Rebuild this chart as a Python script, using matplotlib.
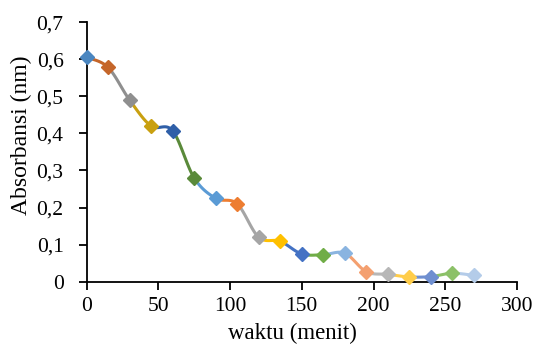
import numpy as np
import matplotlib
matplotlib.use("Agg")
import matplotlib.pyplot as plt
from matplotlib.ticker import FuncFormatter

waktu = [0, 15, 30, 45, 60, 75, 90, 105, 120, 135, 150, 165, 180, 195, 210, 225, 240, 255, 270]
absorbansi = [0.605, 0.578, 0.49, 0.42, 0.407, 0.28, 0.225, 0.21, 0.12, 0.109, 0.075, 0.073,
              0.077, 0.027, 0.02, 0.013, 0.014, 0.023, 0.017]
colors = ["#4a86c0", "#c5662a", "#8f8f8f", "#c9a010", "#2f5fa8", "#5a8a3a",
          "#5b9bd5", "#ed7d31", "#a5a5a5", "#ffc000", "#4472c4", "#70ad47",
          "#8ab4e0", "#f4a070", "#b7b7b7", "#ffcd4a", "#6f8fd0", "#8cc168", "#b4cce9"]

plt.rcParams['font.family'] = ['Liberation Serif', 'DejaVu Serif']

fig = plt.figure(figsize=(5.38, 3.47), dpi=100)
ax = fig.add_axes([0.1608, 0.188, 0.8002, 0.7484])

x = np.array(waktu, dtype=float)
y = np.array(absorbansi, dtype=float)
n = len(x)
t = np.linspace(0, 1, 30)
for i in range(n - 1):
    p0 = np.array([x[max(i - 1, 0)], y[max(i - 1, 0)]])
    p1 = np.array([x[i], y[i]])
    p2 = np.array([x[i + 1], y[i + 1]])
    p3 = np.array([x[min(i + 2, n - 1)], y[min(i + 2, n - 1)]])
    c1 = p1 + (p2 - p0) / 6.0
    c2 = p2 - (p3 - p1) / 6.0
    b = ((1 - t) ** 3)[:, None] * p1 + (3 * (1 - t) ** 2 * t)[:, None] * c1 \
        + (3 * (1 - t) * t ** 2)[:, None] * c2 + (t ** 3)[:, None] * p2
    ax.plot(b[:, 0], b[:, 1], color=colors[i + 1], lw=2.2, solid_capstyle='round', zorder=2)

for i in range(n):
    ax.plot(x[i], y[i], marker='D', ms=7, color=colors[i], mec=colors[i], zorder=3, clip_on=False)

ax.set_xlim(0, 300)
ax.set_ylim(0, 0.7)
ax.set_xticks(np.arange(0, 301, 50))
ax.set_yticks(np.arange(0, 0.71, 0.1))
ax.yaxis.set_major_formatter(FuncFormatter(lambda v, p: "0" if abs(v) < 1e-9 else f"{v:.1f}".replace('.', ',')))
for s in ['top', 'right']:
    ax.spines[s].set_visible(False)
for s in ['left', 'bottom']:
    ax.spines[s].set_linewidth(1.3)
    ax.spines[s].set_color('black')
ax.tick_params(axis='both', direction='out', length=5.5, width=1.3, labelsize=15.5, colors='black')
ax.tick_params(axis='x', pad=5.5)
ax.tick_params(axis='y', pad=11)
ax.set_xlabel('waktu (menit)', fontsize=16.5)
ax.xaxis.set_label_coords(0.4785, -0.157)
ax.set_ylabel('Absorbansi (nm)', fontsize=17)
ax.yaxis.set_label_coords(-0.127, 0.563)

fig.savefig('out.png', dpi=100)
